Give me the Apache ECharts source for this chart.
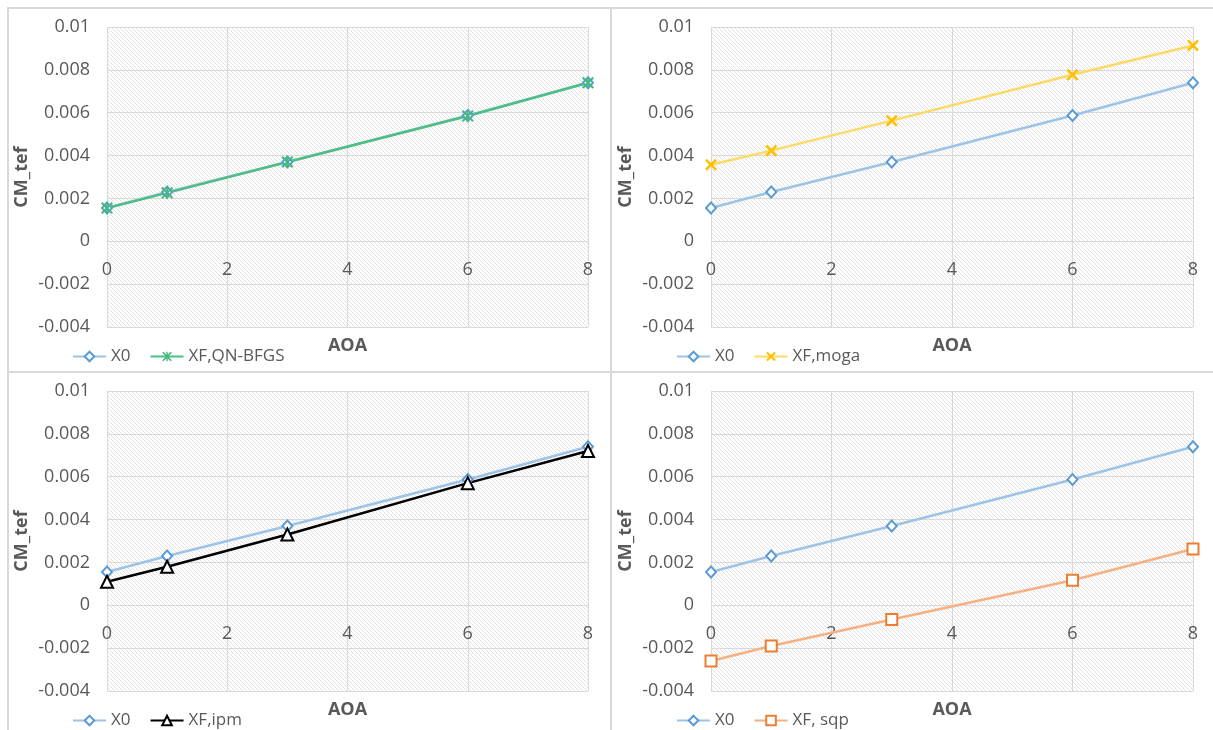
<!DOCTYPE html>
<html>
<head>
<meta charset="utf-8">
<script src="https://cdn.jsdelivr.net/npm/echarts@6/dist/echarts.min.js"></script>
<style>
  html, body { margin: 0; padding: 0; background: #fff; }
  #wrap { position: relative; width: 1213px; height: 730px; overflow: hidden; }
  .panel { position: absolute; }
  .rule { position: absolute; background: #d9d9d9; }
</style>
</head>
<body>
<div id="wrap">
  <div class="rule" style="left:7px;top:7px;width:2px;height:723px"></div>
  <div class="rule" style="left:7px;top:7px;width:1206px;height:2px"></div>
  <div class="rule" style="left:610px;top:7px;width:2px;height:723px"></div>
  <div class="rule" style="left:7px;top:371px;width:1206px;height:2px"></div>
  <div class="panel" id="p1" style="left:9px;top:9px;width:601px;height:362px"></div>
  <div class="panel" id="p2" style="left:612px;top:9px;width:601px;height:362px"></div>
  <div class="panel" id="p3" style="left:9px;top:373px;width:601px;height:357px"></div>
  <div class="panel" id="p4" style="left:612px;top:373px;width:601px;height:357px"></div>
</div>
<script>
// AOA values (x)
var aoa = [0, 1, 3, 6, 8]
// CM_tef values
var x0 = [0.00155, 0.0023, 0.0037, 0.00587, 0.0074]
var qnBfgs = [0.00155, 0.00226, 0.0037, 0.00585, 0.0074]
var moga = [0.00357, 0.00423, 0.00563, 0.00777, 0.00914]
var ipm = [0.0011, 0.0018, 0.0033, 0.0057, 0.0072]
var sqp = [-0.0026, -0.0019, -0.00066, 0.00117, 0.00263]
var yMin = -0.004, yMax = 0.01, yStep = 0.002

var FONT = 'Open Sans'
var TXT = '#595959'
var GRIDC = '#d9d9d9'

// diagonal hatch for plot area
function hatch() {
    var c = document.createElement('canvas')
    c.width = 4
    c.height = 4
    var g = c.getContext('2d')
    g.fillStyle = '#fff'
    g.fillRect(0, 0, 4, 4)
    g.strokeStyle = '#e2e2e2'
    g.lineWidth = 1
    g.beginPath()
    g.moveTo(-1, -1); g.lineTo(5, 5)
    g.moveTo(-1, 3); g.lineTo(1, 5)
    g.moveTo(3, -1); g.lineTo(5, 1)
    g.stroke()
    return c
}
var pattern = { image: hatch(), repeat: 'repeat' }

var xPath = 'path://M0,1.5 L1.5,0 L5,3.5 L8.5,0 L10,1.5 L6.5,5 L10,8.5 L8.5,10 L5,6.5 L1.5,10 L0,8.5 L3.5,5 Z'
var starPath = 'path://M0,1.2 L1.2,0 L5,3.8 L8.8,0 L10,1.2 L6.2,5 L10,8.8 L8.8,10 L5,6.2 L1.2,10 L0,8.8 L3.8,5 Z M4.3,0 L5.7,0 L5.7,10 L4.3,10 Z'

function pairs(ys) {
    return aoa.map(function (a, i) { return [a, ys[i]] })
}

function x0Series() {
    return {
        name: 'X0', type: 'line', data: pairs(x0),
        symbol: 'diamond', symbolSize: [10, 11],
        lineStyle: { color: '#9DC3E6', width: 2.5 },
        itemStyle: { color: '#fff', borderColor: '#5B9BD5', borderWidth: 2 }
    }
}

function drawPanel(id, gl, gw, other) {
    var el = document.getElementById(id)
    var chart = echarts.init(el)
    var gh = 300
    // put the x axis (and its labels) on y = 0
    var zeroOffset = -gh * (0 - yMin) / (yMax - yMin)
    chart.setOption({
        animation: false,
        textStyle: { fontFamily: FONT },
        grid: {
            left: gl, top: 18, width: gw, height: gh,
            outerBoundsMode: 'none', containLabel: false,
            show: true, backgroundColor: pattern, borderWidth: 0
        },
        legend: {
            left: gl - 35, top: 339, padding: 0,
            itemWidth: 33, itemHeight: 12, itemGap: 19,
            textStyle: { fontSize: 17, color: TXT, fontFamily: FONT },
            data: ['X0', other.name]
        },
        xAxis: {
            type: 'value', min: 0, max: 8, interval: 2,
            position: 'bottom', offset: zeroOffset,
            axisLine: { show: true, onZero: false, lineStyle: { color: GRIDC } },
            axisTick: { show: false },
            splitLine: { show: true, lineStyle: { color: GRIDC } },
            axisLabel: { color: TXT, fontSize: 18, margin: 20, fontFamily: FONT }
        },
        yAxis: {
            type: 'value', min: yMin, max: yMax, interval: yStep,
            axisLine: { show: false, onZero: false },
            axisTick: { show: false },
            splitLine: { show: true, lineStyle: { color: GRIDC } },
            axisLabel: {
                color: TXT, fontSize: 18, margin: 17, fontFamily: FONT,
                formatter: function (v) { return String(parseFloat(v.toFixed(4))) }
            },
            name: 'CM_tef', nameLocation: 'middle', nameGap: 76, nameRotate: 90,
            nameMoveOverlap: false,
            nameTextStyle: { color: TXT, fontSize: 18, fontWeight: 'bold', fontFamily: FONT }
        },
        graphic: [{
            type: 'text', x: gl + gw / 2, y: 337,
            style: {
                text: 'AOA', fill: TXT, font: 'bold 18px "Open Sans"',
                align: 'center', verticalAlign: 'middle'
            }
        }],
        series: [x0Series(), other]
    })
}

drawPanel('p1', 98, 481, {
    name: 'XF,QN-BFGS', type: 'line', data: pairs(qnBfgs),
    symbol: starPath, symbolSize: 12,
    lineStyle: { color: '#4DBF84', width: 2.5 },
    itemStyle: { color: '#45B87C' }
})
drawPanel('p2', 99, 482, {
    name: 'XF,moga', type: 'line', data: pairs(moga),
    symbol: xPath, symbolSize: 12,
    lineStyle: { color: '#FFD966', width: 2.5 },
    itemStyle: { color: '#FFC000' }
})
drawPanel('p3', 98, 481, {
    name: 'XF,ipm', type: 'line', data: pairs(ipm),
    symbol: 'triangle', symbolSize: 12,
    lineStyle: { color: '#000', width: 2.5 },
    itemStyle: { color: '#fff', borderColor: '#000', borderWidth: 2 }
})
drawPanel('p4', 99, 482, {
    name: 'XF, sqp', type: 'line', data: pairs(sqp),
    symbol: 'rect', symbolSize: 11,
    lineStyle: { color: '#F4B183', width: 2.5 },
    itemStyle: { color: '#fff', borderColor: '#ED7D31', borderWidth: 2 }
})
</script>
</body>
</html>
